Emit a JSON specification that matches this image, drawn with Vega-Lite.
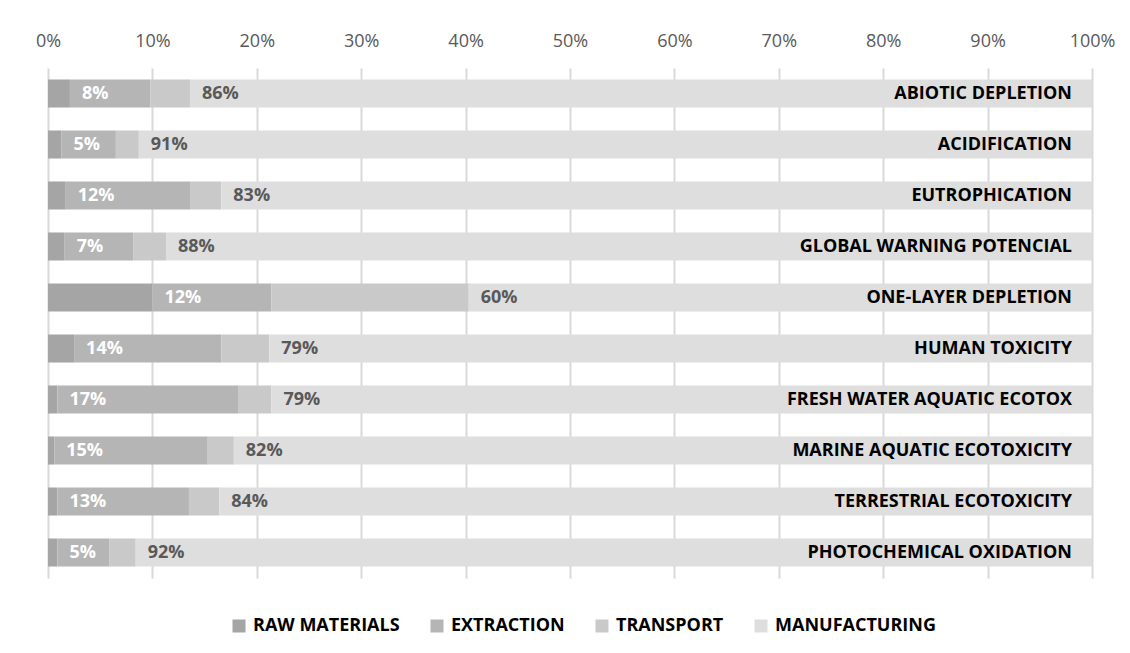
{
  "$schema": "https://vega.github.io/schema/vega-lite/v6.json",
  "autosize": "none",
  "width": 1044,
  "height": 510,
  "padding": {"left": 48, "top": 68, "right": 38, "bottom": 75},
  "background": "white",
  "config": {
    "view": {"stroke": null},
    "font": "Open Sans"
  },
  "data": {
    "values": [
      {"category": "ABIOTIC DEPLETION", "segment": "RAW MATERIALS", "value": 2.1, "label": ""},
      {"category": "ABIOTIC DEPLETION", "segment": "EXTRACTION", "value": 7.7, "label": "8%"},
      {"category": "ABIOTIC DEPLETION", "segment": "TRANSPORT", "value": 3.8, "label": ""},
      {"category": "ABIOTIC DEPLETION", "segment": "MANUFACTURING", "value": 86.4, "label": "86%"},
      {"category": "ACIDIFICATION", "segment": "RAW MATERIALS", "value": 1.3, "label": ""},
      {"category": "ACIDIFICATION", "segment": "EXTRACTION", "value": 5.2, "label": "5%"},
      {"category": "ACIDIFICATION", "segment": "TRANSPORT", "value": 2.2, "label": ""},
      {"category": "ACIDIFICATION", "segment": "MANUFACTURING", "value": 91.3, "label": "91%"},
      {"category": "EUTROPHICATION", "segment": "RAW MATERIALS", "value": 1.7, "label": ""},
      {"category": "EUTROPHICATION", "segment": "EXTRACTION", "value": 11.9, "label": "12%"},
      {"category": "EUTROPHICATION", "segment": "TRANSPORT", "value": 3.0, "label": ""},
      {"category": "EUTROPHICATION", "segment": "MANUFACTURING", "value": 83.4, "label": "83%"},
      {"category": "GLOBAL WARNING POTENCIAL", "segment": "RAW MATERIALS", "value": 1.6, "label": ""},
      {"category": "GLOBAL WARNING POTENCIAL", "segment": "EXTRACTION", "value": 6.6, "label": "7%"},
      {"category": "GLOBAL WARNING POTENCIAL", "segment": "TRANSPORT", "value": 3.1, "label": ""},
      {"category": "GLOBAL WARNING POTENCIAL", "segment": "MANUFACTURING", "value": 88.7, "label": "88%"},
      {"category": "ONE-LAYER DEPLETION", "segment": "RAW MATERIALS", "value": 10.0, "label": ""},
      {"category": "ONE-LAYER DEPLETION", "segment": "EXTRACTION", "value": 11.4, "label": "12%"},
      {"category": "ONE-LAYER DEPLETION", "segment": "TRANSPORT", "value": 18.9, "label": ""},
      {"category": "ONE-LAYER DEPLETION", "segment": "MANUFACTURING", "value": 59.7, "label": "60%"},
      {"category": "HUMAN TOXICITY", "segment": "RAW MATERIALS", "value": 2.5, "label": ""},
      {"category": "HUMAN TOXICITY", "segment": "EXTRACTION", "value": 14.1, "label": "14%"},
      {"category": "HUMAN TOXICITY", "segment": "TRANSPORT", "value": 4.6, "label": ""},
      {"category": "HUMAN TOXICITY", "segment": "MANUFACTURING", "value": 78.8, "label": "79%"},
      {"category": "FRESH WATER AQUATIC ECOTOX", "segment": "RAW MATERIALS", "value": 0.9, "label": ""},
      {"category": "FRESH WATER AQUATIC ECOTOX", "segment": "EXTRACTION", "value": 17.3, "label": "17%"},
      {"category": "FRESH WATER AQUATIC ECOTOX", "segment": "TRANSPORT", "value": 3.2, "label": ""},
      {"category": "FRESH WATER AQUATIC ECOTOX", "segment": "MANUFACTURING", "value": 78.6, "label": "79%"},
      {"category": "MARINE AQUATIC ECOTOXICITY", "segment": "RAW MATERIALS", "value": 0.6, "label": ""},
      {"category": "MARINE AQUATIC ECOTOXICITY", "segment": "EXTRACTION", "value": 14.7, "label": "15%"},
      {"category": "MARINE AQUATIC ECOTOXICITY", "segment": "TRANSPORT", "value": 2.5, "label": ""},
      {"category": "MARINE AQUATIC ECOTOXICITY", "segment": "MANUFACTURING", "value": 82.2, "label": "82%"},
      {"category": "TERRESTRIAL ECOTOXICITY", "segment": "RAW MATERIALS", "value": 0.9, "label": ""},
      {"category": "TERRESTRIAL ECOTOXICITY", "segment": "EXTRACTION", "value": 12.6, "label": "13%"},
      {"category": "TERRESTRIAL ECOTOXICITY", "segment": "TRANSPORT", "value": 2.9, "label": ""},
      {"category": "TERRESTRIAL ECOTOXICITY", "segment": "MANUFACTURING", "value": 83.6, "label": "84%"},
      {"category": "PHOTOCHEMICAL OXIDATION", "segment": "RAW MATERIALS", "value": 0.9, "label": ""},
      {"category": "PHOTOCHEMICAL OXIDATION", "segment": "EXTRACTION", "value": 5.0, "label": "5%"},
      {"category": "PHOTOCHEMICAL OXIDATION", "segment": "TRANSPORT", "value": 2.5, "label": ""},
      {"category": "PHOTOCHEMICAL OXIDATION", "segment": "MANUFACTURING", "value": 91.6, "label": "92%"}
    ]
  },
  "transform": [
    {"lookup": "segment", "from": {"data": {"values": [
      {"segment": "RAW MATERIALS", "rank": 1},
      {"segment": "EXTRACTION", "rank": 2},
      {"segment": "TRANSPORT", "rank": 3},
      {"segment": "MANUFACTURING", "rank": 4}
    ]}, "key": "segment", "fields": ["rank"]}},
    {"stack": "value", "groupby": ["category"], "sort": [{"field": "rank", "order": "ascending"}], "as": ["v0", "v1"]}
  ],
  "encoding": {
    "y": {
      "field": "category",
      "type": "nominal",
      "sort": ["ABIOTIC DEPLETION", "ACIDIFICATION", "EUTROPHICATION", "GLOBAL WARNING POTENCIAL", "ONE-LAYER DEPLETION", "HUMAN TOXICITY", "FRESH WATER AQUATIC ECOTOX", "MARINE AQUATIC ECOTOXICITY", "TERRESTRIAL ECOTOXICITY", "PHOTOCHEMICAL OXIDATION"],
      "scale": {"paddingInner": 0.45, "paddingOuter": 0.225},
      "axis": null
    }
  },
  "layer": [
    {
      "mark": {"type": "bar"},
      "encoding": {
        "x": {
          "field": "v0",
          "type": "quantitative",
          "scale": {"domain": [0, 100], "nice": false},
          "axis": {
            "orient": "top",
            "values": [0, 10, 20, 30, 40, 50, 60, 70, 80, 90, 100],
            "labelExpr": "datum.value + '%'",
            "labelFlush": false,
            "title": null,
            "domain": false,
            "ticks": false,
            "labelPadding": 18,
            "labelFontSize": 18,
            "labelColor": "#595959",
            "gridColor": "#d9d9d9",
            "gridWidth": 2
          }
        },
        "x2": {"field": "v1"},
        "color": {
          "field": "segment",
          "type": "nominal",
          "scale": {
            "domain": ["RAW MATERIALS", "EXTRACTION", "TRANSPORT", "MANUFACTURING"],
            "range": ["#a5a5a5", "#b5b5b5", "#c9c9c9", "#dedede"]
          },
          "legend": {
            "title": null,
            "orient": "none",
            "direction": "horizontal",
            "legendX": 182,
            "legendY": 549,
            "symbolType": "square",
            "symbolSize": 169,
            "symbolStrokeWidth": 0,
            "labelFontSize": 18,
            "labelFontWeight": "bold",
            "labelColor": "#000000",
            "labelOffset": 5,
            "labelLimit": 400,
            "columnPadding": 28
          }
        }
      }
    },
    {
      "transform": [{"filter": "datum.label != ''"}],
      "mark": {"type": "text", "align": "left", "dx": 12, "fontSize": 18, "fontWeight": "bold"},
      "encoding": {
        "x": {"field": "v0", "type": "quantitative"},
        "text": {"field": "label"},
        "color": {
          "condition": {"test": "datum.segment == 'EXTRACTION'", "value": "#ffffff"},
          "value": "#595959"
        }
      }
    },
    {
      "transform": [{"filter": "datum.segment == 'MANUFACTURING'"}],
      "mark": {"type": "text", "align": "right", "dx": -20, "fontSize": 18, "fontWeight": "bold", "color": "#000000"},
      "encoding": {
        "x": {"datum": 100, "type": "quantitative"},
        "text": {"field": "category"}
      }
    }
  ]
}
